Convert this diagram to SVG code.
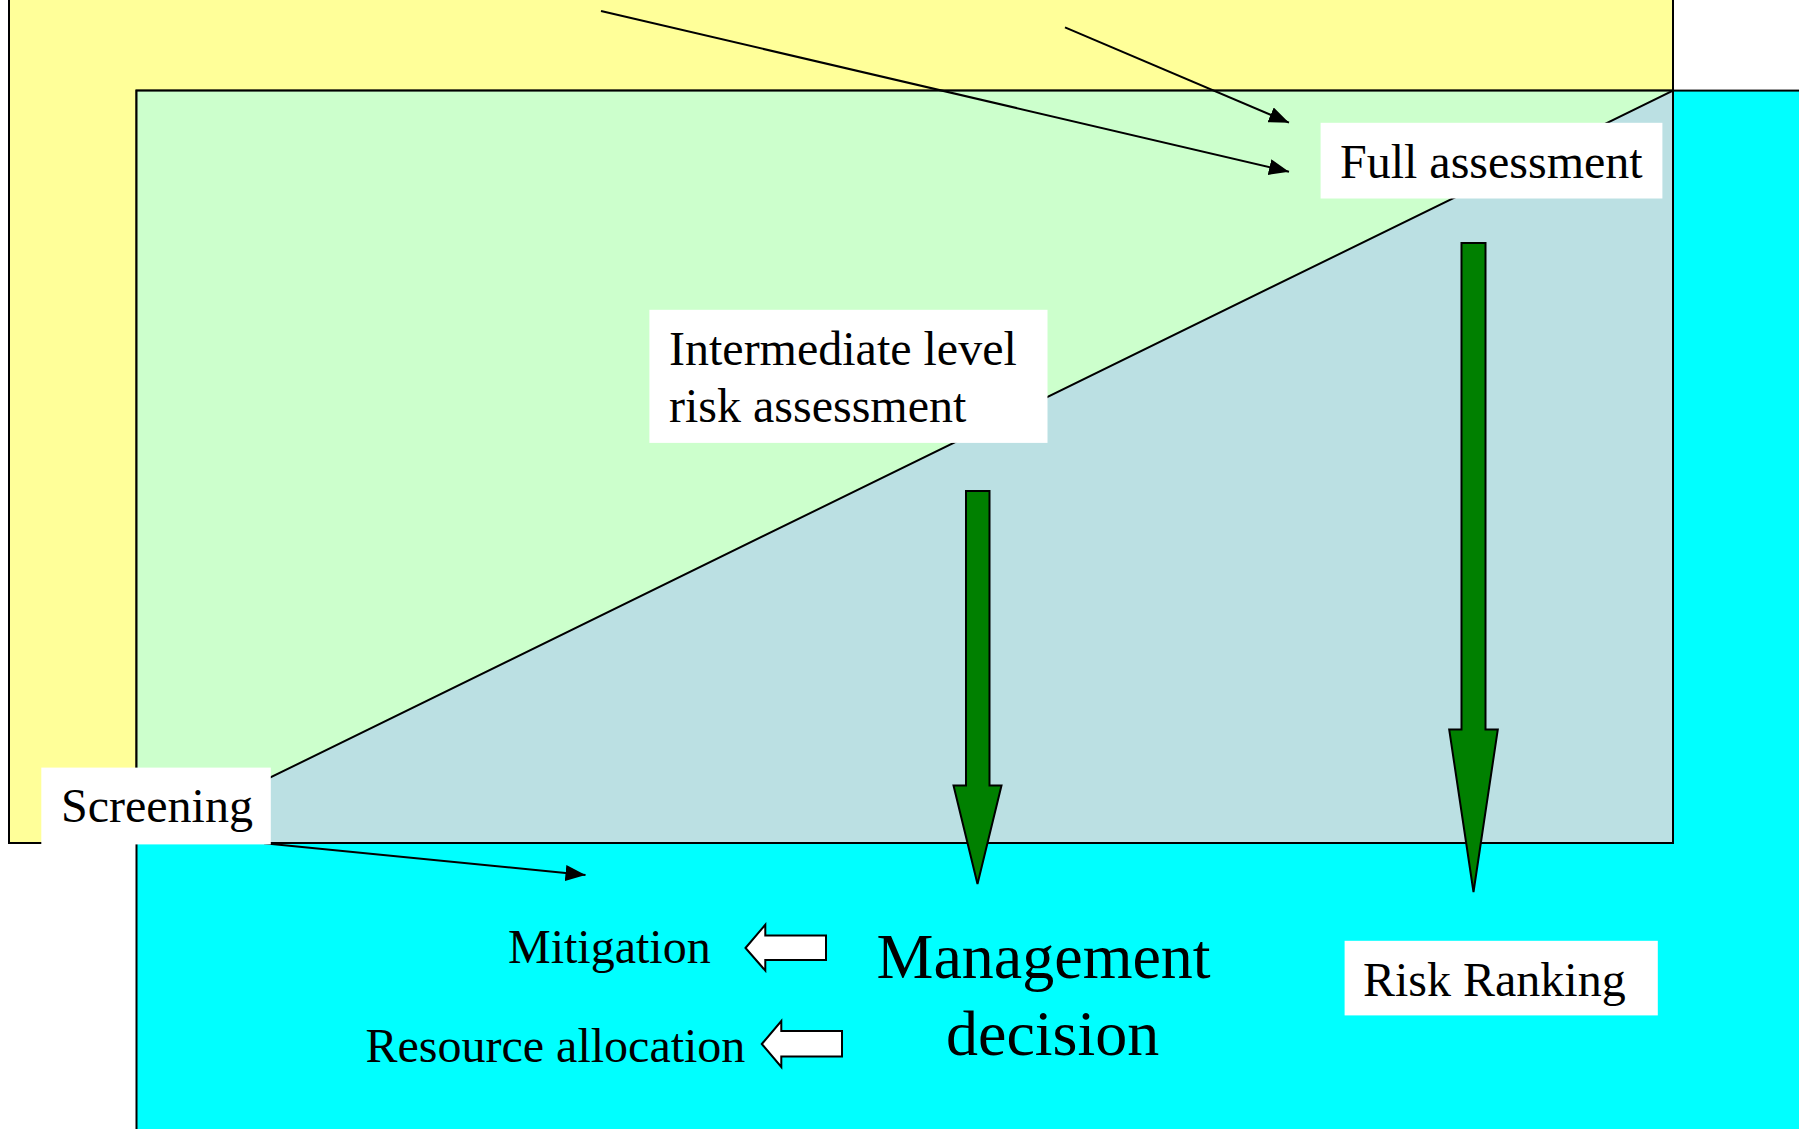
<svg xmlns="http://www.w3.org/2000/svg" width="1799" height="1129" viewBox="0 0 1799 1129">
<style>
.bg{stroke:#000;stroke-width:2}
.lbl{fill:#fff;stroke:none}
.t{font-family:"Liberation Serif","Times New Roman",serif;font-size:48px;fill:#000}
.big{font-size:64px}
.thin{stroke:#000;stroke-width:2;fill:none}
.garrow{fill:#008000;stroke:#000;stroke-width:2;stroke-linejoin:miter}
.warrow{fill:#fff;stroke:#000;stroke-width:2}
</style>
<defs>
<marker id="ah" markerUnits="userSpaceOnUse" markerWidth="22" markerHeight="16" refX="20" refY="8" orient="auto">
<path d="M0,0 L20,8 L0,16 z" fill="#000"/>
</marker>
</defs>
<rect width="1799" height="1129" fill="#fff"/>
<g id="regions">
<rect id="yellow" class="bg" x="9" y="-5" width="1664" height="848" fill="#FFFF99"/>
<rect id="cyan" class="bg" x="136.5" y="90.6" width="1680" height="1060" fill="#00FFFF"/>
<rect id="green" class="bg" x="136.5" y="90.6" width="1536.5" height="752.4" fill="#CCFFCC"/>
<polygon id="triangle" class="bg" points="136.5,843 1673,90.6 1673,843" fill="#BBE0E3"/>
</g>
<g id="connectors">
<line class="thin" x1="601" y1="11" x2="1289" y2="171.7" marker-end="url(#ah)"/>
<line class="thin" x1="1065" y1="27.3" x2="1289" y2="122.7" marker-end="url(#ah)"/>
<line class="thin" x1="264" y1="843.3" x2="585.5" y2="875" marker-end="url(#ah)"/>
<polygon class="garrow" points="966,491 989.5,491 989.5,785.5 1001.5,785.5 977.5,884 953.5,785.5 966,785.5"/>
<polygon class="garrow" points="1461.5,243 1485.5,243 1485.5,729.5 1497.8,729.5 1473.5,892 1449.2,729.5 1461.5,729.5"/>
<polygon class="warrow" points="745.5,948 765.3,924.7 765.3,935.5 826,935.5 826,960 765.3,960 765.3,970.6"/>
<polygon class="warrow" points="761.8,1044 781.3,1021 781.3,1031 842,1031 842,1056.5 781.3,1056.5 781.3,1067"/>
</g>
<g id="full">
<rect class="lbl" x="1320.6" y="122.8" width="341.8" height="75.7"/>
<text class="t" x="1340" y="178">Full assessment</text>
</g>
<g id="intermediate">
<rect class="lbl" x="649.4" y="309.8" width="398.1" height="133.1"/>
<text class="t" x="669" y="365">Intermediate level</text>
<text class="t" x="669" y="422">risk assessment</text>
</g>
<g id="screening">
<rect class="lbl" x="41.3" y="767.6" width="229.5" height="76.8"/>
<text class="t" x="61" y="822">Screening</text>
</g>
<g id="ranking">
<rect class="lbl" x="1344.6" y="940.8" width="313.2" height="74.6"/>
<text class="t" x="1363" y="996">Risk Ranking</text>
</g>
<g id="mitigation">
<text class="t" x="508" y="963">Mitigation</text>
</g>
<g id="resource">
<text class="t" x="365.5" y="1062">Resource allocation</text>
</g>
<g id="management">
<text class="t big" x="876.5" y="978">Management</text>
<text class="t big" x="946" y="1055">decision</text>
</g>
</svg>
